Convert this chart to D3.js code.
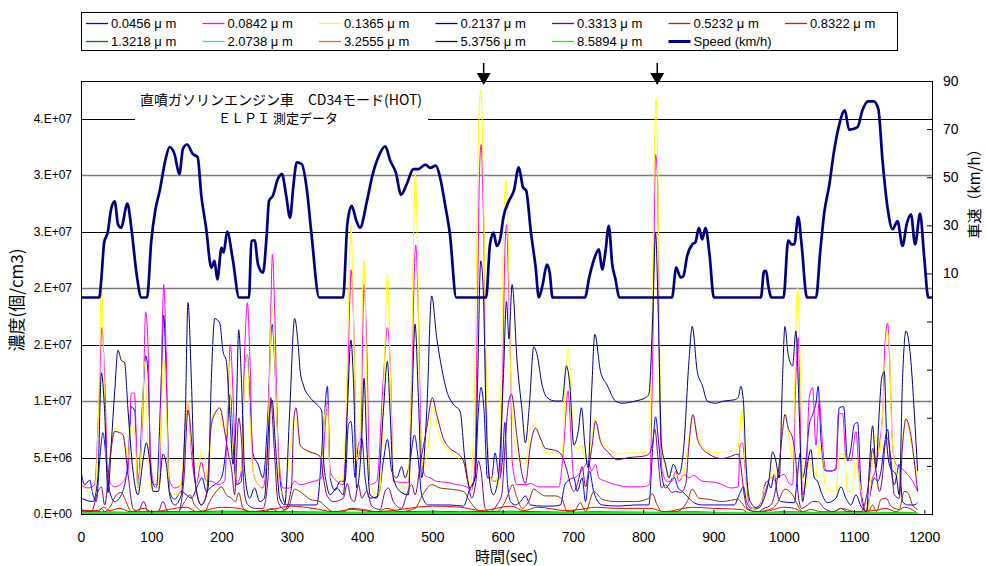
<!DOCTYPE html>
<html>
<head>
<meta charset="utf-8">
<script src="https://cdn.jsdelivr.net/npm/d3@7"></script>
<style>
body { margin: 0; background: #fff; }
svg { font-family: "Liberation Sans", Arial, "Noto Sans CJK JP", sans-serif; }
.jp { font-family: "Noto Sans CJK JP", "Liberation Sans", sans-serif; }
</style>
</head>
<body>
<div id="container"></div>
<script>
// ---- data (time sec, concentration in 1e6 /cm3) ----
var seriesNames = ["0.0456\u03bc m", "0.0842\u03bc m", "0.1365\u03bc m", "0.2137\u03bc m", "0.3313\u03bc m", "0.5232\u03bc m", "0.8322\u03bc m",
    "1.3218\u03bc m", "2.0738\u03bc m", "3.2555\u03bc m", "5.3756\u03bc m", "8.5894\u03bc m"];
var speedName = "Speed (km/h)";

var s0456 = [[0,3.8],[5.2,2.6],[12.3,3],[17,1.7],[21.8,1.1],[26.5,4.7],[31.3,7.2],[36,4.7],[40.8,2],[48,1.1],[57.4,1.7],[67,4.7],[71.6,9.5],[76.4,9.1],[81,2.3],[88.2,10.6],[92,14],[95.3,12.6],[100,3.2],[107.2,2.3],[114.3,12],[117.7,17.6],[121.4,12],[126.2,2],[133.3,1.3],[142.8,2],[149.9,1.7],[157,1.4],[166.6,2.6],[172.2,3.2],[178.4,2],[185.5,2.4],[190.3,2.6],[199.8,3.2],[206.9,6.1],[212.5,10.6],[216.4,6.1],[221.1,2.6],[228.2,2.9],[232.9,12.9],[236.7,14.1],[240,10.6],[244.8,5.3],[252,4.4],[259,3.2],[266.2,9.1],[271.9,16.8],[276.7,12],[282.8,3.2],[292.3,0.8],[301.8,0.8],[316.5,0.8],[335.5,0.8],[345,7.6],[350.7,11.3],[354.5,3.2],[361.6,2.1],[368.7,2.9],[375.8,2.9],[380.5,7.9],[384.2,8.2],[390.1,3.2],[394.8,6.1],[399.5,6.7],[404.3,3.2],[411.3,1.4],[423.2,1.6],[430.3,4.7],[436,6.6],[442.2,3.8],[449.3,3.2],[456.3,4.2],[461.1,3.2],[468.2,4.7],[474.4,7],[480.1,4.7],[484.8,1.7],[494.3,0.8],[506.2,0.8],[525.3,0.8],[544.3,0.7],[553.6,2.3],[560.7,3.2],[565.5,9.1],[569.3,11.2],[573.6,9.1],[578.3,3.2],[584.4,3.2],[589.2,5.4],[595.4,3.2],[600,5],[603.1,8.1],[606.4,3.2],[611.2,1.1],[618.3,0.8],[625.4,1.1],[632.4,1.6],[639.6,0.8],[656.2,0.7],[670.4,0.7],[682.3,0.8],[688.5,2.6],[694.2,3],[701.3,3.2],[706.1,2],[713.2,3.2],[717.9,1.1],[723.6,3.8],[729.8,1.9],[741.6,0.8],[765.3,0.7],[789.1,0.8],[808.1,0.8],[813.8,6.1],[817.6,8.6],[822.3,6.1],[827,3.2],[831.8,2.3],[836.6,2.6],[843.7,3.3],[849.9,2.3],[855.6,2],[865.1,1.4],[872.2,1],[884.1,0.8],[912.6,0.8],[929.5,0.8],[936.6,1.7],[942.8,2.4],[946.1,1.4],[953.3,0.5],[967.5,0.8],[972.2,2.4],[977,2.9],[981.7,2.3],[986.5,3.5],[991.2,1.7],[996,1.1],[1015,1],[1019.7,3.5],[1023.5,5.4],[1026.8,3.2],[1031.6,4.7],[1036.3,7.9],[1041.1,8.8],[1045.8,9.8],[1049.1,11.3],[1052.9,6.7],[1057.7,3.9],[1067.2,3.8],[1074.3,4.1],[1079,9.4],[1085.2,9.5],[1090.9,4.7],[1095.6,5.8],[1100.4,7.9],[1105.1,8.1],[1109.9,2.6],[1117,0.2],[1121.8,1.4],[1128.9,3.2],[1133.7,2.9],[1138.4,3.8],[1143.1,6.1],[1147.9,7.5],[1151.6,4.7],[1157.4,2.6],[1164.4,4.4],[1169.1,1.1],[1176.3,0.8],[1185.7,0.8],[1190.5,1]];

var s0842 = [[0,2.6],[10,2.3],[19.4,2.6],[25,9.1],[29.9,16.5],[33.7,12],[38.4,3.2],[48,2.4],[57.4,2.7],[67,3.8],[71.6,10.7],[76,10.7],[81,3.2],[88.2,9.1],[92,17.9],[95.3,15],[99,4.7],[104.8,2.6],[112,2.9],[115.2,15],[117.7,20.3],[121,15],[124.8,3.2],[133.3,2.3],[142.8,2.6],[148.5,7.6],[152.3,10],[157,5.5],[164.2,2.7],[171.2,4.6],[178.4,2.9],[185.5,2.9],[195,2.6],[204.5,2.9],[209.2,10.6],[212.5,15],[216.4,10.6],[221.1,2.6],[228.2,3.8],[232.9,14.4],[236.7,18.7],[240.5,13.5],[244.8,3.8],[252,2.6],[259,2.3],[265.2,6.1],[270,17.9],[272.4,23],[275.7,17.9],[280.4,6.1],[287.5,2.3],[297,2.3],[304,2.9],[311.8,2.6],[326,2.8],[342.6,3.2],[347.3,7.6],[350.7,10],[354.5,3.8],[364,2.9],[373.4,2.6],[378.1,9.1],[382.8,19.4],[384.2,21.6],[387.6,17.9],[392.4,4.7],[398.1,6.1],[401,16.5],[402.8,20.3],[406.6,15],[411.3,2.6],[420.8,2.9],[430.3,12],[436,16.5],[440.8,12],[444.5,2.9],[456.3,2.8],[465.8,2.8],[470.6,12],[476.3,23.8],[480.1,17.9],[484.8,4.7],[489.6,3.4],[496.7,3.2],[506.2,2.9],[520.4,2.8],[534.6,2.6],[548.9,2.4],[556,2.1],[560.7,4.7],[564.1,17.9],[566.9,29.7],[569.3,32.7],[572.5,26.8],[576.3,12],[581.1,3.2],[589.2,2.9],[596.3,3.2],[600,12],[603.5,23.8],[605.7,25.6],[608.1,20.9],[611.6,12],[613.5,4.7],[620.6,2.6],[632.4,2.6],[639.6,2.7],[651.4,2.4],[665.7,2.4],[679.9,2.4],[687.1,6.1],[693.2,10.9],[696.6,7.6],[701.3,3.2],[708.4,3.5],[715.6,4.1],[721.7,4.7],[726.5,3.8],[732.2,4.4],[736.9,3.2],[746.4,2.9],[760.6,2.6],[779.6,2.4],[798.6,2.4],[809,2.6],[813.8,15],[817.6,31.8],[820.4,29.7],[823.3,12],[827,3.8],[834.2,2.9],[841.3,2.9],[846.1,3.8],[850.9,2.9],[858,3.5],[865.1,3.2],[872.2,3.4],[884.1,2.9],[903.1,2.8],[912.6,2.6],[924.8,2.3],[935.2,2.4],[938,6.1],[941.4,6.3],[946.1,3.2],[950.9,0.8],[960.4,0.4],[969.9,1.4],[977,2.6],[981.7,3.3],[986.5,3],[993.6,3.3],[1000.7,3.5],[1007.8,2.7],[1012.6,2.6],[1017.3,12],[1020.6,15.6],[1023.5,9.1],[1026.8,1.7],[1031.6,3.2],[1036.3,10.3],[1041.1,11.2],[1045.8,6.1],[1050.6,10],[1055.3,6.1],[1060.1,3.8],[1067.2,3.8],[1074.3,3.9],[1077.6,8.8],[1083.8,8.9],[1088.5,5],[1095.6,4.7],[1102.8,7.3],[1107.5,3.2],[1112.2,0.8],[1119.4,0.2],[1124.1,2.6],[1131.3,4.1],[1136,6.1],[1140.8,9.1],[1144.1,15],[1147.9,16.9],[1151.6,12],[1155,6.1],[1159.7,4.4],[1166.8,4.1],[1176.3,3.5],[1183.4,2.9],[1190.5,2]];

var s1365 = [[0,2.6],[10,2],[19.4,2],[25,9.1],[29,20],[32.7,12],[36,4.7],[40.8,5.3],[48,7.6],[55,7.3],[62,6.7],[67,5],[71.6,7.9],[76.4,7.3],[81,2.3],[85.8,6.1],[90.6,13.5],[95.3,6.1],[100,2.3],[109.6,2.3],[114.3,9.1],[118.1,13.7],[121.4,9.1],[126.2,2],[138,1.7],[147.6,6.1],[152.3,10],[157,6.1],[166.6,4.1],[171.2,5.5],[176,5.3],[180.8,2.3],[185.5,8.2],[190.3,9.1],[195,8.9],[199.8,8.2],[206.9,7],[210.2,13.5],[214,7.6],[218.7,3.2],[223.5,4.7],[228.2,3.8],[232.9,12],[236.3,14.1],[240,9.1],[244.8,3.8],[254.3,2.4],[261.4,2.1],[267.1,9.1],[271.9,18.5],[276.7,12],[282.8,2.3],[290,1.7],[297,5.5],[303.2,8.6],[308.9,7.3],[311.8,6.1],[321.3,5.5],[335.5,5.3],[342.6,5],[347.3,9.1],[350.7,9.7],[354.5,3.2],[364,3.2],[371.1,2.9],[377.2,9.1],[380.9,19.1],[384.2,25.6],[387.6,17.9],[392.4,4.7],[397.2,7.6],[400,17.9],[402.8,22.4],[405.7,15],[409.4,3.2],[416.1,2],[424.6,1.7],[431.2,12],[436,21.2],[439.8,13.5],[444.5,3.2],[454,2.6],[463.6,2.3],[469.2,9.1],[473,23.8],[475.8,30],[478.7,23.8],[482.5,7.6],[487.2,4.1],[494.3,6.1],[500.5,9.5],[508.5,7.3],[520.4,5.8],[529.9,5.3],[541.7,4.7],[547.9,4.4],[553.6,2.3],[559.4,9.1],[563.1,23.8],[566.5,35.6],[569.3,37.6],[572.5,29.7],[575.9,15],[579.7,4.7],[584.4,2.9],[589.2,3.5],[593.9,2.3],[598.7,15],[602,26.8],[604.9,29.6],[608.1,23.8],[611.6,12],[618,6],[625.4,4.7],[632.4,4.4],[639.6,7.6],[646.7,7.9],[653.8,6.7],[660.9,5.5],[670.4,5.4],[684.7,5.3],[689.5,12],[693.2,14.7],[696.6,12],[701.3,6.1],[707.5,5.8],[712.2,6.1],[718,4.7],[725.1,6.1],[731.2,8.3],[739.3,6.7],[751.2,5.8],[763,5.3],[779.6,5.4],[798.6,5.4],[808.1,5.8],[812.8,17.9],[816.2,32.7],[818.5,36.8],[820.9,29.7],[824.2,12],[828.5,4.7],[834.2,3.8],[841.3,3.2],[848.5,3.5],[855.6,3.2],[862.7,5.5],[869.8,8.6],[879.3,6.7],[888.7,5.7],[898.2,5.4],[912.4,5.5],[920,5.5],[934.3,5.7],[938,7.6],[939.9,9.2],[943.7,6.1],[948.4,1.1],[955.6,0.5],[965,0.5],[972.2,2.3],[979.4,2.9],[984.1,4.2],[988.8,3.2],[993.6,4.7],[998.3,7.6],[1002.1,8.9],[1007.8,6.7],[1012.6,4.7],[1015.9,12],[1019.7,20],[1023.5,13.5],[1026.8,3.2],[1031.6,2.3],[1036.3,4.7],[1041.1,3.8],[1045.8,3.2],[1050.6,6.1],[1055.3,4.4],[1060.1,2.3],[1074.3,2],[1079,5.3],[1086.2,5.3],[1090.9,2],[1097,2],[1102.8,4.7],[1107.5,2.9],[1112.2,1.6],[1119.4,0.2],[1124.1,3.2],[1131.3,7],[1136,5.3],[1140.8,9.1],[1144.1,13.2],[1146.5,16.2],[1150.3,15],[1152.7,9.1],[1157.4,4.7],[1163.1,3.2],[1167.8,5.5],[1174,8.5],[1180,6.7],[1185.7,4.7],[1190.5,3.2]];

var s2137 = [[0,1.4],[17,1.1],[24,3.2],[29,12.5],[33.7,9],[38.4,1.9],[43,6.1],[48,10.9],[52.6,14.5],[57.4,13.6],[62,13.4],[67,9.1],[74,3.8],[81,1.7],[88.2,4.7],[93,6.3],[97.7,4.7],[102.5,2],[110,2],[116.7,5.3],[121.4,4.4],[126.2,1.7],[133.3,0.8],[142.8,1.7],[148.5,9],[152.3,18.7],[157,12],[161.8,3.2],[171.2,0.8],[180.8,2.3],[185.5,12],[190.3,17.3],[197.4,16.9],[202.1,14.4],[206.9,13.5],[211.6,9.1],[216.4,4.4],[221.1,9.1],[224.4,16.3],[228.2,12],[232.9,3.8],[240,1.4],[247,2.3],[254.3,1.1],[261,1.4],[268.6,9.1],[271.9,10.1],[276.7,6.1],[282.8,1.4],[289.9,0.8],[297,9.1],[304,17.3],[309,15],[312,12.6],[316.5,11.4],[326,10.3],[335.5,9.7],[342.6,9.1],[345,5],[349.7,2.6],[354.5,1.7],[364,2.3],[373.4,1.7],[379,9.1],[384,15.4],[387.6,12],[392.4,2.3],[399.5,6.7],[402.8,12],[406.6,6.1],[411.3,1.7],[420.8,1.4],[430.3,9.1],[436,13.5],[439.8,9.1],[444.5,3.2],[454,2],[465.8,1.7],[470.6,9.1],[475.4,16.8],[480.1,10.3],[484.8,3.2],[492,9.1],[499,19.3],[506.2,15.6],[513.3,12.9],[520.4,10.9],[529.9,9.7],[539.4,9.1],[546.5,4.7],[553.6,2.3],[560.7,3.2],[564.5,12],[568.8,22.4],[572.5,19.7],[576.3,9.1],[581.1,3.2],[586.8,1.7],[593.9,3.2],[601,12],[605.5,18.8],[609,15.5],[613.5,20.3],[620.6,13.5],[627.7,9.1],[632.4,6.3],[638.1,9.7],[644.3,14.8],[649,14.1],[656.2,11.4],[663.3,10.3],[675,10],[684.7,10],[690.9,13.1],[695.6,11.4],[701.3,6.1],[707.5,7.3],[712.2,9.4],[717,6.1],[721.7,4.1],[726.5,10.6],[731.2,15.9],[739.3,12.6],[748.8,11.4],[760.6,10],[770,9.8],[789,10],[803.3,10.3],[808.1,10.6],[813.8,17.9],[817.6,24.9],[821.4,17.9],[826.1,6.1],[831.8,4.4],[836.6,3.2],[843,4.4],[850.9,3.5],[858,6.1],[865.1,13.5],[869.8,16.6],[877,12.6],[884.1,11.4],[891.2,10],[903,9.8],[915,10],[929.5,10.1],[935.2,10.3],[939,11.3],[942.8,9.8],[946.1,4.7],[952.3,1.1],[962.8,0.5],[972.2,1.4],[979.4,3.2],[984.1,5.5],[988.8,4.7],[993.6,3.2],[998.3,12],[1001.7,16.6],[1006.4,14.1],[1012.6,13.1],[1017.3,16.2],[1022,9.1],[1026.8,1.1],[1033,4.1],[1038.7,5.7],[1043.4,3.2],[1048.2,2.9],[1052.9,2],[1062.4,1],[1074.3,1.4],[1081.4,2.4],[1088.5,1.4],[1095.6,0.8],[1102.8,1.7],[1109.9,0.7],[1118,0.2],[1121.8,4.1],[1126.5,7.8],[1131.3,4.1],[1136,9.1],[1139.3,12],[1143.1,12.6],[1146.9,6.1],[1151.6,4.1],[1159.7,3.5],[1164.4,1.7],[1169.1,12],[1173.9,16.2],[1181,13.5],[1185.7,9.1],[1190.5,3.8]];

var s3313 = [[0,0.4],[14.7,0.2],[24.2,2],[29,2.4],[33.7,0.8],[40.8,4.7],[48,7.3],[55,7.2],[59.7,7],[67,3.5],[74,0.5],[81,0.2],[89.2,1.1],[95.3,0.2],[109.6,0.2],[116.7,1.1],[123.8,0.2],[138,0.1],[146.6,3.2],[152.3,9.2],[158,6.1],[164.2,2],[171.2,0.8],[178.4,1.7],[185.5,7.9],[192.6,9.1],[197.4,9.4],[204.5,7.3],[209.2,5.5],[214,4.1],[218.7,1.7],[224.4,8.5],[228.2,6.7],[232.9,1.7],[237.7,0.8],[247.2,0.5],[259,0.5],[266.2,3.2],[270,10.3],[274.7,6.1],[280.4,1.1],[289.9,0.4],[299.4,2.3],[303,8.5],[306,9.4],[311.8,6.1],[316.5,5.8],[326,5.5],[340.2,5.1],[345,3.2],[349.7,1.7],[359.1,1.1],[373.4,1.4],[379,2.7],[384,1.4],[389,1.1],[394.8,2.6],[399.5,1.4],[406.6,2],[413.7,0.7],[425.6,0.4],[432.7,2],[437.5,2.3],[444.5,1.1],[456.3,0.5],[463.4,1.7],[470.6,2.6],[475.4,1.7],[483.4,4.7],[492,7.6],[500,10.3],[506.2,8.8],[515.6,6.7],[525.1,5.8],[534.6,5.4],[544.1,4.7],[551.2,2.6],[556,1.4],[562.1,2.9],[565.5,4.7],[569.3,3.8],[575.1,0.5],[582.2,0.2],[591.7,0.8],[598.7,1.7],[603.5,6.1],[608.1,9.7],[612.5,10.6],[620.6,6.7],[627.7,3.5],[632.4,2.7],[639.6,6.1],[646.7,7.6],[653.8,6.7],[660.9,5.8],[670.4,5.7],[679.9,5.5],[685.6,5],[691.8,3.8],[696.6,2.6],[701.3,2],[707.5,2.9],[713.2,4.2],[718,2.4],[722.7,4.1],[727.4,6.1],[732.2,8.2],[739.3,6.4],[751.2,5.4],[763,4.8],[779.6,5],[798.6,5.1],[808.1,5.3],[812.8,6.1],[816.6,7.5],[821.4,4.7],[826.1,2.3],[831.8,2.6],[836.6,2.2],[841.3,1.9],[846.1,2],[853.2,1.9],[860.4,2.6],[865.1,6.1],[870.8,8.8],[877,6.7],[884.1,5.8],[893.6,5.3],[912.6,4.9],[920,5],[935.2,5.3],[938,4.7],[943.7,1.7],[948.4,0.5],[962.8,0.2],[972,0.5],[981.7,0.8],[988.8,2.3],[993.6,4.4],[998.3,7.3],[1001.7,8.8],[1006.4,7.6],[1012.6,6.7],[1017.3,4.7],[1020.6,1.7],[1025.4,0.5],[1033.9,0.8],[1041.1,1.1],[1048.2,1.1],[1057.7,0.5],[1071.9,0.2],[1081.4,0.5],[1090.9,0.2],[1109.9,0.2],[1121.8,3.2],[1126.5,5.8],[1131.3,3.8],[1136,2],[1140.8,3.5],[1144.1,6.1],[1147.9,6.7],[1152.7,4.7],[1157.4,1.7],[1164.4,1.4],[1169.1,6.1],[1173.9,8.4],[1180,7.3],[1185.7,4.7],[1190.5,2]];

var s5232 = [[0,0.2],[24.2,0.2],[29,0.5],[33.7,0.2],[43,0.8],[50.3,1.7],[57.4,1.9],[64,1.1],[71.6,0.2],[100,0.2],[125,0.2],[138,0.2],[147.6,1.1],[154.7,1.7],[161.8,0.8],[176,0.2],[183.1,1.1],[192.6,2],[199.8,2.4],[206.9,1.7],[214,1.4],[220,1.1],[224.4,1.9],[230.6,0.5],[242.4,0.2],[261.4,0.2],[270.9,0.5],[280.4,0.2],[294.6,0.5],[304.1,2.2],[311.2,2],[326,1.3],[340.2,1.1],[347.3,0.7],[359.1,0.2],[373.4,0.2],[382.8,0.5],[401.9,0.4],[420.8,0.2],[435,0.5],[454,0.2],[475.4,0.5],[487.2,1.8],[499,2.6],[510.9,2.3],[525.1,2.2],[544.1,2],[553.6,1.1],[563.1,0.4],[572.5,0.2],[591.7,0.2],[603.5,1.1],[610.7,2.2],[613.5,2.6],[620.6,1.4],[627.7,0.5],[637.1,1.1],[644.3,2.2],[651.4,1.9],[660.9,1.6],[675.2,1.6],[684.7,1.3],[691.8,0.2],[701.3,0.2],[710.7,1],[718,0.2],[729.8,2],[741.6,1.3],[760.6,1.1],[789.1,1.1],[808.1,1.4],[812.8,1.8],[819.9,0.8],[827,0.2],[846.1,0.2],[862.7,1.1],[869.8,2.2],[879.3,1.4],[893.6,1.3],[912.6,1.1],[935.2,1.3],[940,1],[946.1,0.5],[960,0.2],[984.1,0.5],[991.2,1],[1001.7,2.2],[1012.6,1.7],[1019.7,0.8],[1026.8,0.2],[1038.7,0.4],[1052.9,0.2],[1070,0.2],[1081.4,0.5],[1100.4,0.2],[1119.4,0.1],[1126.5,0.8],[1132,0.2],[1138.4,1.3],[1145.5,1.4],[1152.7,0.7],[1164.4,0.4],[1171.5,2],[1176.3,1.9],[1183.4,0.8],[1190.5,0.4]];

var s8322 = [[0,0.3],[25,0.3],[32,0.6],[40,0.3],[55,0.5],[70,0.2],[90,0.5],[100,0.2],[150,0.6],[165,0.2],[200,0.6],[225,0.5],[240,0.2],[270,0.4],[300,0.7],[330,0.5],[360,0.2],[385,0.4],[420,0.2],[500,0.7],[540,0.6],[570,0.3],[612,0.7],[630,0.3],[650,0.6],[690,0.3],[710,0.4],[732,0.6],[760,0.5],[810,0.5],[830,0.2],[870,0.6],[900,0.5],[940,0.4],[950,0.1],[980,0.3],[1000,0.6],[1015,0.5],[1030,0.1],[1090,0.2],[1130,0.3],[1145,0.5],[1160,0.2],[1172,0.6],[1190,0.1]];

var s13218 = [[0,0.15],[30,0.2],[60,0.15],[150,0.2],[200,0.25],[300,0.2],[400,0.15],[500,0.25],[540,0.2],[610,0.25],[700,0.15],[730,0.2],[820,0.15],[870,0.2],[950,0.05],[1000,0.2],[1100,0.05],[1170,0.15],[1190,0.05]];
var s20738 = [[0,0.08],[100,0.1],[200,0.12],[300,0.1],[500,0.12],[610,0.12],[800,0.1],[1000,0.1],[1100,0.03],[1190,0.05]];
var s32555 = [[0,0.05],[200,0.08],[500,0.08],[800,0.06],[1000,0.06],[1190,0.04]];
var s53756 = [[0,0.04],[300,0.05],[600,0.05],[900,0.04],[1190,0.03]];
var s85894 = [[0,0.05],[300,0.06],[600,0.06],[900,0.05],[1190,0.04]];

// vehicle speed (sec, km/h)
var speed = [[0,0],[26,0],[29,8],[33,23],[38,27],[43,37],[48,40],[52.6,30.5],[57,29],[66,39],[72,28],[79,10],[86,0],[94,0],[100,23.5],[106,36.7],[112,44.4],[120,57],[126,62.5],[133,59.7],[140,51.3],[145,61.8],[151,63.6],[159,59.7],[166,58.3],[171,43],[178,29],[185.5,12.4],[190,15.2],[194,7.5],[200,20.7],[203,18.6],[208,27.4],[216,15.8],[225,0],[239,0],[242.5,23.5],[247,23.8],[252,13.7],[259,10.3],[264,25],[267.6,40.2],[273,42.3],[280,49.2],[286,51.3],[292,42.3],[297.5,33.2],[302,45.8],[307,56.2],[314,55.5],[321,45.8],[328,26.3],[339,0],[373,0],[379,30.5],[385,38.1],[392,31.8],[397,29],[407,40.2],[414,49.9],[423,58.3],[433,62.8],[440,56.9],[448,52],[455.5,42.7],[463.6,47.2],[473,53.4],[480,53.4],[490,55.2],[497,53.9],[505,54.8],[511,49.9],[518,38.8],[525,26.3],[534,0],[576.5,0],[582,22.1],[587,27],[591.7,21.4],[596.4,24.2],[601,33.2],[609,40.2],[616,44.4],[623,54.1],[629,45.8],[633.5,44.4],[640,27.7],[647,12.4],[651.5,0],[657,5.4],[663,13.7],[667,10.3],[671,0],[717,0],[723.6,8.9],[730,15.8],[737,20],[741.6,11.6],[746.4,19.3],[751,29.8],[756,13.7],[760.6,7.6],[766,0],[841,0],[847,12.4],[853,8.4],[857,8.8],[862.6,17.3],[870,22.1],[874.4,23],[879.3,29],[884,24.2],[888.7,29],[894.4,17.9],[900.6,0],[967.5,0],[972,11],[975,11],[978,5],[982.6,0],[999.7,0],[1006.4,23.8],[1011,22.1],[1015,22.1],[1020.6,33.5],[1025.4,22.1],[1033,0],[1046,0],[1052,19.3],[1057.7,35.3],[1065,47.1],[1071,59.7],[1077.6,70.1],[1087,77.8],[1093,69.7],[1105,70.8],[1112,77.8],[1120,81.5],[1128,81.5],[1134.5,78.5],[1140.6,56.9],[1147.7,37.4],[1155,28.4],[1162,31.8],[1169,21.4],[1175,30.5],[1181,34.6],[1187,22.1],[1194,34.9],[1200,16.5],[1205.7,0],[1211,0]];

var seriesData = [s0456, s0842, s1365, s2137, s3313, s5232, s8322, s13218, s20738, s32555, s53756, s85894];

var leftTicks = [0, 5e6, 1e7, 1.5e7, 2e7, 2.5e7, 3e7, 3.5e7];
var leftTickLabels = ["0.E+00", "5.E+06", "1.E+07", "2.E+07", "2.E+07", "3.E+07", "3.E+07", "4.E+07"];
var rightTicks = [-90, -70, -50, -30, -10, 10, 30, 50, 70, 90];
var xTicks = [0, 100, 200, 300, 400, 500, 600, 700, 800, 900, 1000, 1100, 1200];
var arrowTimes = [573, 820];

// ---- styles ----
var seriesColors = ["#0000FF", "#FF00FF", "#FFFF00", "#000080", "#800080", "#993300", "#FF0000",
    "#008000", "#33CCFF", "#FF6600", "#003300", "#00FF00"];
var seriesWidths = [1, 1, 1, 1, 1, 1, 1, 1, 1, 1, 1, 2.5];

var svgAttr = { width: 986, height: 566 };
var plot = { left: 81, right: 932, top: 81, bottom: 514 };

var svg = d3.select("#container").append("svg")
    .attr("width", svgAttr.width).attr("height", svgAttr.height);

var x = d3.scaleLinear().domain([0, 1211]).range([plot.left, plot.right]);
var yL = d3.scaleLinear().domain([0, 3.832e7]).range([plot.bottom, plot.top]);
var yR = d3.scaleLinear().domain([-90, 90]).range([plot.bottom, plot.top]);

svg.append("defs").append("clipPath").attr("id", "plotclip")
    .append("rect").attr("x", plot.left).attr("y", plot.top)
    .attr("width", plot.right - plot.left).attr("height", plot.bottom - plot.top);

// gridlines
svg.append("g").selectAll("line").data(leftTicks.slice(1)).enter().append("line")
    .attr("x1", plot.left).attr("x2", plot.right)
    .attr("y1", function (d) { return Math.round(yL(d)) + 0.5; })
    .attr("y2", function (d) { return Math.round(yL(d)) + 0.5; })
    .attr("stroke", function (d, i) { return i % 2 ? "#7a7a7a" : "#000"; })
    .attr("stroke-width", function (d, i) { return i % 2 ? 1.6 : 1; });

// title box (covers gridline)
svg.append("rect").attr("x", 135).attr("y", 87).attr("width", 293).attr("height", 39).attr("fill", "#fff");
svg.append("text").attr("class", "jp").attr("x", 281).attr("y", 105).attr("text-anchor", "middle")
    .style("font-size", "14px").text("直噴ガソリンエンジン車　CD34モード(HOT)");
svg.append("text").attr("class", "jp").attr("x", 278).attr("y", 123).attr("text-anchor", "middle")
    .style("font-size", "13px").text("ＥＬＰＩ 測定データ");

// concentration lines
var line = d3.line()
    .x(function (d) { return x(d[0]); })
    .y(function (d) { return yL(d[1] * 1e6); })
    .curve(d3.curveMonotoneX);
var lines = svg.append("g").attr("clip-path", "url(#plotclip)");
seriesData.forEach(function (data, i) {
    lines.append("path").attr("d", line(data))
        .attr("fill", "none").attr("stroke", seriesColors[i])
        .attr("stroke-width", seriesWidths[i]);
});

// speed line
var speedLine = d3.line()
    .x(function (d) { return x(d[0]); })
    .y(function (d) { return yR(d[1]); })
    .curve(d3.curveMonotoneX);
lines.append("path").attr("d", speedLine(speed))
    .attr("fill", "none").attr("stroke", "#000080").attr("stroke-width", 2.7)
    .attr("stroke-linejoin", "round");

// plot frame
svg.append("rect").attr("x", plot.left + 0.5).attr("y", plot.top + 0.5)
    .attr("width", plot.right - plot.left).attr("height", plot.bottom - plot.top)
    .attr("fill", "none").attr("stroke", "#000").attr("stroke-width", 1);

// axes
var xAxis = svg.append("g").attr("transform", "translate(0," + plot.bottom + ")")
    .call(d3.axisBottom(x).tickValues(xTicks).tickSize(-4).tickPadding(18).tickFormat(d3.format("d")));
var yAxisL = svg.append("g").attr("transform", "translate(" + plot.left + ",0)")
    .call(d3.axisLeft(yL).tickValues(leftTicks).tickSize(0).tickPadding(9)
        .tickFormat(function (d, i) { return leftTickLabels[i]; }));
var yAxisR = svg.append("g").attr("transform", "translate(" + plot.right + ",0)")
    .call(d3.axisRight(yR).tickValues(rightTicks).tickSize(-5).tickPadding(11)
        .tickFormat(function (d) { return d > 0 ? d : ""; }));
[xAxis, yAxisL, yAxisR].forEach(function (g) {
    g.select(".domain").remove();
    g.selectAll("text").attr("fill", "#000").style("font-family", "'Liberation Sans', Arial, sans-serif");
    g.selectAll("line").attr("stroke", "#000");
});
xAxis.selectAll("text").style("font-size", "14px");
yAxisL.selectAll("text").style("font-size", "12px");
yAxisR.selectAll("text").style("font-size", "14px");

// axis titles
svg.append("text").attr("class", "jp").attr("x", (plot.left + plot.right) / 2).attr("y", 562)
    .attr("text-anchor", "middle").style("font-size", "15px").text("時間(sec)");
svg.append("text").attr("class", "jp").attr("transform", "translate(23,300) rotate(-90)")
    .attr("text-anchor", "middle").style("font-size", "17px").text("濃度(個/cm3)");
svg.append("text").attr("class", "jp").attr("transform", "translate(980,190) rotate(-90)")
    .attr("text-anchor", "middle").style("font-size", "15px").text("車速（km/h）");

// arrows
var arrows = svg.append("g");
arrowTimes.forEach(function (t) {
    var ax = x(t);
    arrows.append("line").attr("x1", ax).attr("x2", ax).attr("y1", 63).attr("y2", 76)
        .attr("stroke", "#000").attr("stroke-width", 1.5);
    arrows.append("path").attr("d", "M" + (ax - 7) + ",73L" + (ax + 7) + ",73L" + ax + ",85Z").attr("fill", "#000");
});

// legend
var legend = svg.append("g");
legend.append("rect").attr("x", 81.5).attr("y", 12.5).attr("width", 816).attr("height", 38)
    .attr("fill", "#fff").attr("stroke", "#000");
var legendItems = seriesNames.map(function (n, i) {
    return { name: n.replace("\u03bc m", " \u03bc m"), color: seriesColors[i], w: 1.3 };
});
legendItems.push({ name: speedName, color: "#000080", w: 3 });
legendItems.forEach(function (item, i) {
    var col = i % 7, row = Math.floor(i / 7);
    var lx = 86 + col * 116.5, ly = 23.5 + row * 18;
    legend.append("line").attr("x1", lx).attr("x2", lx + 22).attr("y1", ly).attr("y2", ly)
        .attr("stroke", item.color).attr("stroke-width", item.w);
    legend.append("text").attr("x", lx + 25).attr("y", ly + 4.5)
        .style("font-size", "13px").text(item.name);
});
</script>
</body>
</html>
